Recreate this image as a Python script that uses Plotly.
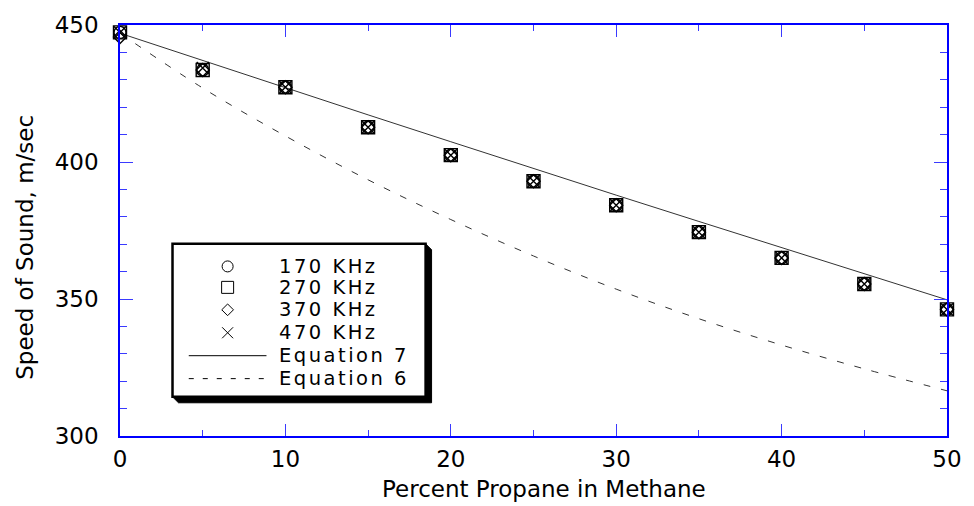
import plotly.graph_objects as go

# Percent propane in methane
propane = [0, 5, 10, 15, 20, 25, 30, 35, 40, 45, 50]

# Measured speed of sound (m/sec) at four transducer frequencies
khz170 = [447.3, 433.6, 427.3, 412.7, 402.5, 393.0, 384.2, 374.4, 365.0, 355.5, 346.2]
khz270 = [447.3, 433.6, 427.3, 412.7, 402.5, 393.0, 384.2, 374.4, 365.0, 355.5, 346.2]
khz370 = [445.6, 433.6, 427.3, 412.7, 402.5, 393.0, 384.2, 374.4, 365.0, 355.5, 346.2]
khz470 = [447.3, 434.3, 427.3, 412.7, 402.5, 393.0, 384.2, 374.4, 365.0, 355.5, 346.2]

# Model predictions
eq7 = [447.0, 437.0, 427.1, 417.2, 407.4, 397.6, 387.9, 378.3, 368.7, 359.2, 349.7]
eq6 = [447.0, 427.0, 409.5, 393.5, 379.0, 365.7, 353.6, 342.8, 333.2, 324.5, 316.5]

x_ticks = [0, 10, 20, 30, 40, 50]
y_ticks = [300, 350, 400, 450]

series_names = ["170 KHz", "270 KHz", "370 KHz", "470 KHz"]
line_names = ["Equation 7", "Equation 6"]

FONT = "DejaVu Sans"
BLUE = "#0000ff"
TICKBLUE = "#3a3aff"

fig = go.Figure()

fig.add_trace(go.Scatter(x=propane, y=eq7, mode="lines",
                         line=dict(color="#333333", width=1), showlegend=False))
fig.add_trace(go.Scatter(x=propane, y=eq6, mode="lines",
                         line=dict(color="#333333", width=1, dash="7px,11px", shape="spline"),
                         showlegend=False))

symbols = [("circle-open", 12), ("square-open", 13), ("diamond-open", 10), ("x-thin-open", 12)]
for vals, (sym, size) in zip([khz170, khz270, khz370, khz470], symbols):
    fig.add_trace(go.Scatter(x=propane, y=vals, mode="markers", cliponaxis=False,
                             marker=dict(symbol=sym, size=size, color="black",
                                         line=dict(color="black", width=1.4)),
                             showlegend=False))

# Legend key symbols drawn on a pixel-scaled overlay axis pair
leg_sym_x = 228
leg_rows = [266, 287, 309.5, 332.5, 355.5, 378.5]
for (sym, size), yy in zip(symbols, leg_rows[:4]):
    fig.add_trace(go.Scatter(x=[leg_sym_x], y=[yy], xaxis="x2", yaxis="y2", mode="markers",
                             cliponaxis=False,
                             marker=dict(symbol=sym, size=size - 1, color="black",
                                         line=dict(color="black", width=1)),
                             showlegend=False))

shapes = []
# legend shadow and frame, kept under the traces so the key symbols show
shapes.append(dict(type="path", xref="x2", yref="y2", layer="below",
                   path="M 426.7 243.3 L 432.7 249.3 L 432.7 402.7 L 178.7 402.7 L 172.7 396.7 Z",
                   fillcolor="black", line=dict(color="black", width=1)))
shapes.append(dict(type="rect", xref="x2", yref="y2", x0=172.7, x1=426.7, y0=243.3, y1=396.7,
                   layer="below", fillcolor="white", line=dict(color="black", width=2.5)))
shapes.append(dict(type="line", xref="x2", yref="y2", x0=189, x1=267, y0=leg_rows[4], y1=leg_rows[4],
                   line=dict(color="black", width=1)))
shapes.append(dict(type="line", xref="x2", yref="y2", x0=189, x1=267, y0=leg_rows[5], y1=leg_rows[5],
                   line=dict(color="black", width=1, dash="5px,9px")))

annotations = []
for name, yy in zip(series_names + line_names, leg_rows):
    annotations.append(dict(x=278, y=yy, xref="x2", yref="y2",
                            text="<span style='letter-spacing:2.5px'>%s</span>" % name,
                            showarrow=False, xanchor="left", yanchor="middle",
                            font=dict(family=FONT, size=19.5, color="black")))

annotations.append(dict(x=(546 - 120) / 830, y=(436 - 489) / 412, xref="paper", yref="paper",
                        text="Percent Propane in Methane", showarrow=False,
                        xanchor="center", yanchor="middle",
                        font=dict(family=FONT, size=23, color="black")))
annotations.append(dict(x=(25 - 120) / 830, y=(436 - 247) / 412, xref="paper", yref="paper",
                        text="Speed of Sound, m/sec", showarrow=False, textangle=-90,
                        xanchor="center", yanchor="middle",
                        font=dict(family=FONT, size=23, color="black")))

axis_common = dict(showline=True, linecolor=BLUE, linewidth=1.5, mirror="allticks",
                   ticks="inside", tickcolor=TICKBLUE, tickwidth=1.3,
                   showgrid=False, zeroline=False,
                   tickfont=dict(family=FONT, size=23, color="black"))

fig.update_layout(
    width=974, height=506,
    margin=dict(l=120, r=24, t=24, b=70),
    paper_bgcolor="white", plot_bgcolor="white",
    showlegend=False,
    xaxis=dict(range=[0, 50], tickvals=x_ticks, ticklen=12, ticklabelstandoff=2,
               minor=dict(dtick=5, ticklen=6, ticks="inside", tickcolor=TICKBLUE, tickwidth=1.3),
               **axis_common),
    yaxis=dict(range=[300, 450], tickvals=y_ticks, ticklen=13, ticklabelstandoff=15,
               minor=dict(dtick=10, ticklen=7, ticks="inside", tickcolor=TICKBLUE, tickwidth=1.3),
               **axis_common),
    xaxis2=dict(range=[120, 950], overlaying="x", visible=False, domain=[0, 1], anchor="y2"),
    yaxis2=dict(range=[436, 24], overlaying="y", visible=False, domain=[0, 1], anchor="x2"),
    shapes=shapes,
    annotations=annotations,
)

fig.write_html("out.html")
